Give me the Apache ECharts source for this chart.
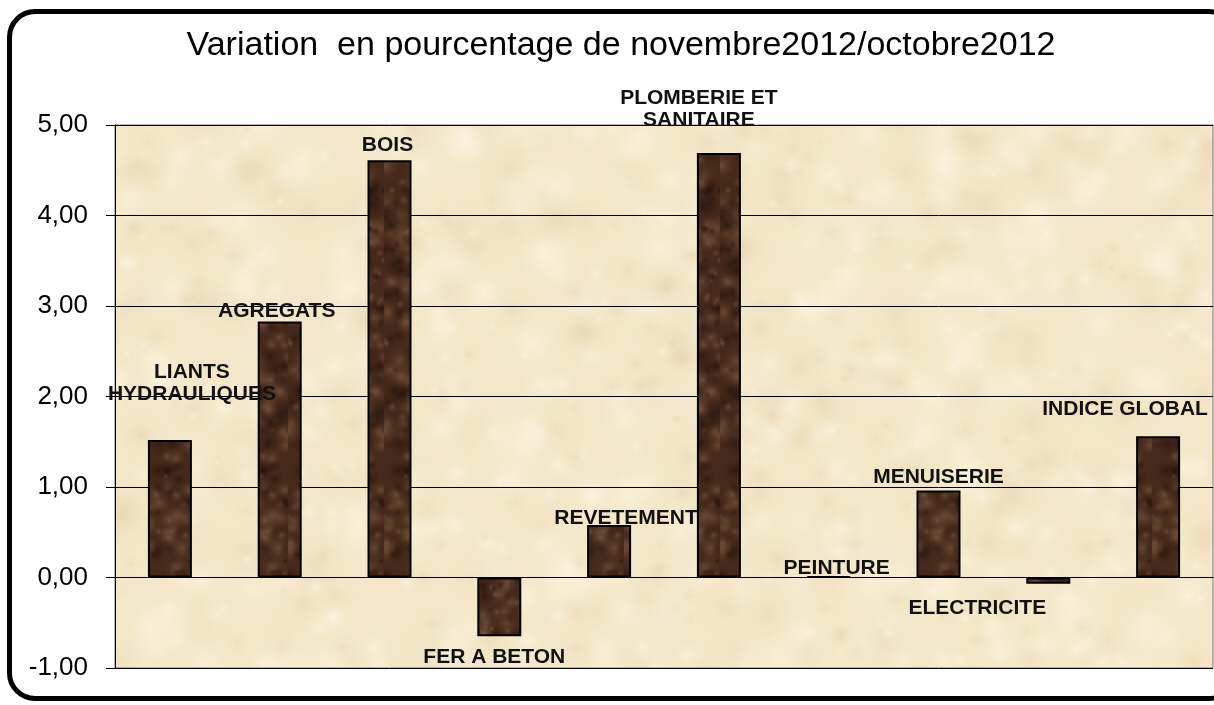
<!DOCTYPE html>
<html>
<head>
<meta charset="utf-8">
<script src="https://cdn.jsdelivr.net/npm/echarts@6/dist/echarts.min.js"></script>
<style>
  html, body { margin: 0; padding: 0; background: #fff; }
  #wrap { position: relative; width: 1214px; height: 705px; overflow: hidden; }
  #frame {
    position: absolute; left: 7px; top: 9px; width: 1230px; height: 692px;
    border: 5px solid #000; border-radius: 28px; box-sizing: border-box;
  }
  #chart { position: absolute; left: 0; top: 0; width: 1214px; height: 705px; }
</style>
</head>
<body>
<div id="wrap">
  <div id="frame"></div>
  <div id="chart"></div>
</div>
<script>
// catégories et valeurs (variation en %)
const categories = ['LIANTS HYDRAULIQUES', 'AGREGATS', 'BOIS', 'FER A BETON', 'REVETEMENT',
  'PLOMBERIE ET SANITAIRE', 'PEINTURE', 'MENUISERIE', 'ELECTRICITE', 'INDICE GLOBAL']
const labelNames = ['LIANTS\nHYDRAULIQUES', 'AGREGATS', 'BOIS', 'FER A BETON', 'REVETEMENT',
  'PLOMBERIE ET\nSANITAIRE', 'PEINTURE', 'MENUISERIE', 'ELECTRICITE', 'INDICE GLOBAL']
const values = [1.52, 2.83, 4.61, -0.65, 0.58, 4.69, 0.01, 0.96, -0.07, 1.56]
const yTicks = [-1, 0, 1, 2, 3, 4, 5]

// décalage des étiquettes (déplacées à la main dans l'original)
const labelShift = [[22, -30], [-3, 6], [-2, 1], [-5, 5], [17, 9],
  [-20, -17], [8, 8], [0, 3], [-71, 8], [-33, -11]]

// petit générateur déterministe pour les textures
let seed = 7
const rnd = () => { seed = (seed * 16807) % 2147483647; return seed / 2147483647 }

// texture papier beige (taille du canvas, pas de raccord visible)
const paper = document.createElement('canvas')
paper.width = 1214; paper.height = 705
let pc = paper.getContext('2d')
pc.fillStyle = '#f4e7c9'
pc.fillRect(0, 0, 1214, 705)
for (let i = 0; i < 1100; i++) {
  let x = rnd() * 1214, y = rnd() * 705, r = 6 + rnd() * 34
  let g = pc.createRadialGradient(x, y, 0, x, y, r)
  let light = rnd() > 0.45
  g.addColorStop(0, light ? 'rgba(253,247,230,0.5)' : 'rgba(222,200,160,0.3)')
  g.addColorStop(1, 'rgba(244,231,201,0)')
  pc.fillStyle = g
  pc.fillRect(x - r, y - r, 2 * r, 2 * r)
}

// texture marbre brun
const marble = document.createElement('canvas')
marble.width = 48; marble.height = 560
let mc = marble.getContext('2d')
mc.fillStyle = '#45291a'
mc.fillRect(0, 0, 48, 560)
for (let i = 0; i < 260; i++) {
  let x = rnd() * 48, y = rnd() * 560, r = 3 + rnd() * 14
  let light = rnd() > 0.5
  for (let dy of [-560, 0, 560]) {
    let g = mc.createRadialGradient(x, y + dy, 0, x, y + dy, r)
    g.addColorStop(0, light ? 'rgba(150,112,85,0.45)' : 'rgba(25,12,6,0.5)')
    g.addColorStop(1, 'rgba(69,41,26,0)')
    mc.fillStyle = g
    mc.fillRect(x - r, y + dy - r, 2 * r, 2 * r)
  }
}

const fmt = v => v.toFixed(2).replace('.', ',')

const data = values.map((v, i) => ({
  value: v,
  label: {
    position: v < 0 ? 'bottom' : 'top',
    offset: labelShift[i]
  }
}))

const chart = echarts.init(document.getElementById('chart'))
chart.setOption({
  animation: false,
  title: {
    text: 'Variation  en pourcentage de novembre2012/octobre2012',
    left: 616,
    textAlign: 'center',
    top: 24,
    textStyle: { fontFamily: 'Liberation Sans', fontSize: 34, fontWeight: 'normal', color: '#000' }
  },
  grid: {
    left: 115, right: 1, top: 125, bottom: 37,
    show: true,
    backgroundColor: { image: paper, repeat: 'no-repeat' },
    borderColor: '#777', borderWidth: 1
  },
  xAxis: {
    type: 'category',
    data: categories,
    axisLabel: { show: false },
    axisTick: { show: false },
    axisLine: { onZero: true, lineStyle: { color: '#000', width: 1 } }
  },
  yAxis: {
    type: 'value',
    min: yTicks[0],
    max: yTicks[yTicks.length - 1],
    interval: 1,
    axisLine: { show: true, lineStyle: { color: '#000' } },
    axisTick: { show: true, length: 9, lineStyle: { color: '#000' } },
    axisLabel: {
      formatter: fmt, margin: 27,
      fontFamily: 'Liberation Sans', fontSize: 26, color: '#000'
    },
    splitLine: { lineStyle: { color: '#000', width: 1 } }
  },
  series: [{
    type: 'bar',
    data: data,
    barWidth: 44,
    itemStyle: {
      color: { image: marble, repeat: 'repeat' },
      borderColor: '#000',
      borderWidth: 2
    },
    label: {
      show: true,
      distance: 5,
      formatter: p => labelNames[p.dataIndex],
      fontFamily: 'Liberation Sans',
      fontSize: 21,
      fontWeight: 'bold',
      lineHeight: 22,
      color: '#111'
    }
  }]
})
</script>
</body>
</html>
